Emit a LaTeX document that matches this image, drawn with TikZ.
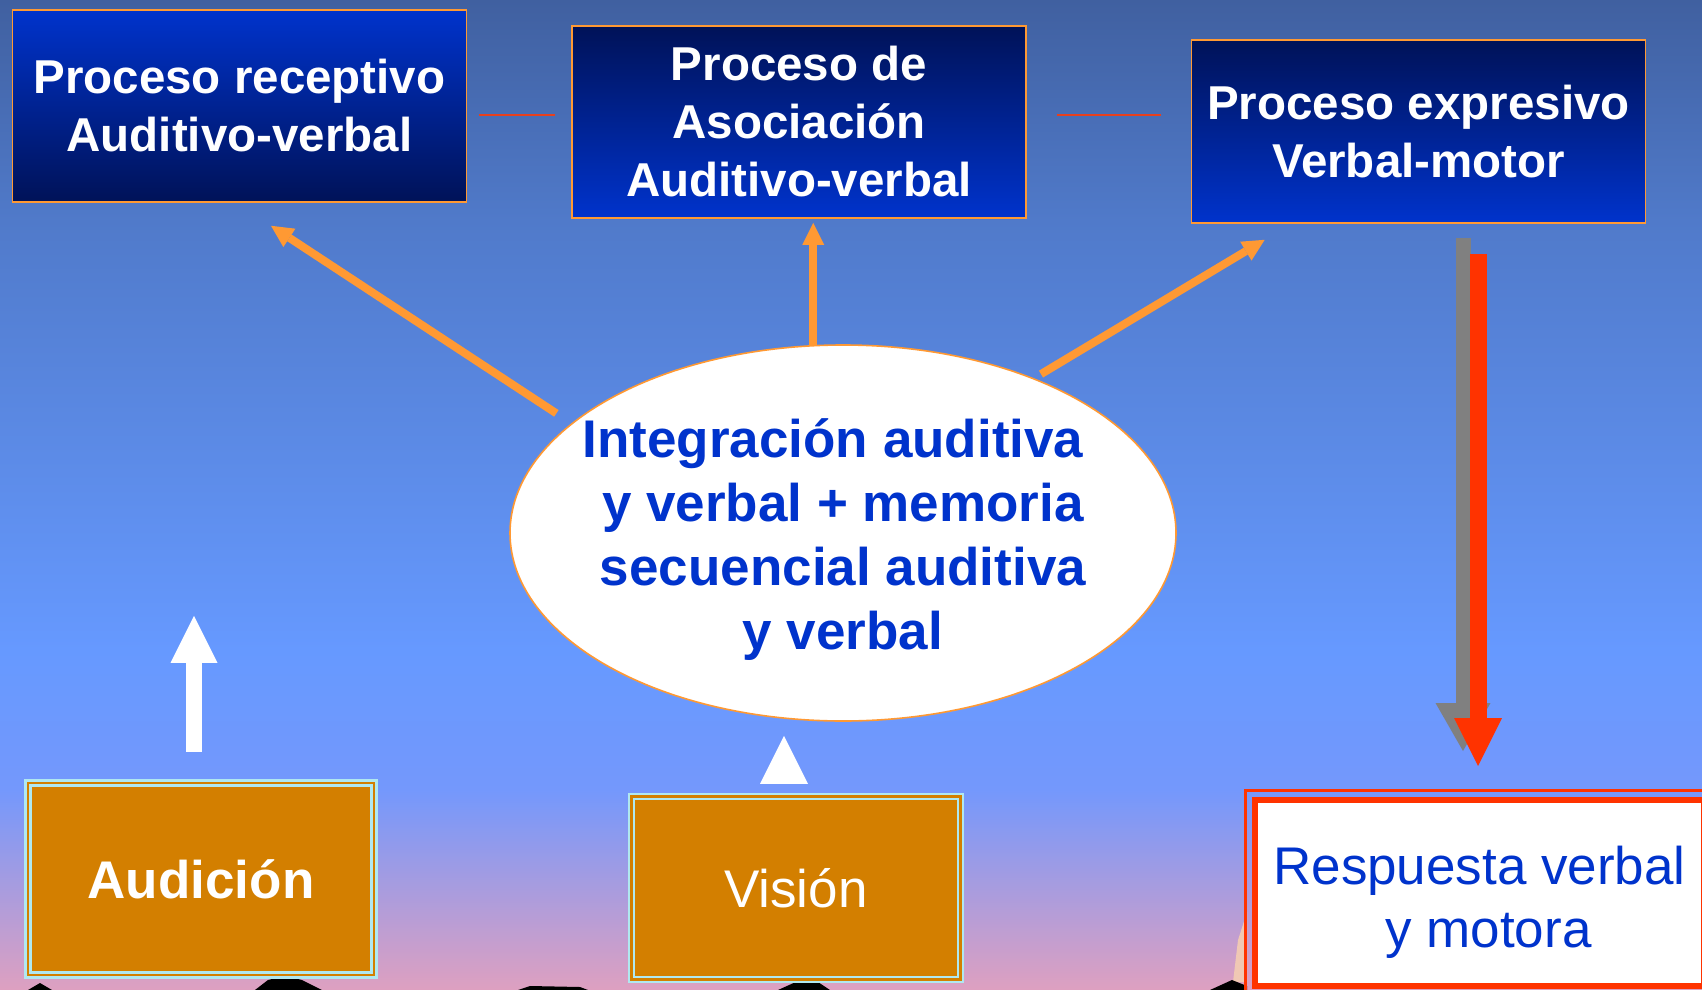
\documentclass[tikz,border=0pt]{standalone}
\usepackage{fontspec}
\setmainfont{Liberation Sans}
\usetikzlibrary{arrows.meta,shapes.geometric,calc}

\definecolor{skyA}{RGB}{64,96,160}
\definecolor{skyB}{RGB}{80,122,202}
\definecolor{skyC}{RGB}{102,153,255}
\definecolor{skyD}{RGB}{116,152,252}
\definecolor{skyE}{RGB}{222,160,192}
\definecolor{boxblue}{RGB}{0,51,204}
\definecolor{boxnavy}{RGB}{0,18,88}
\definecolor{rimorange}{RGB}{255,153,51}
\definecolor{senseorange}{RGB}{211,127,0}
\definecolor{palecyan}{RGB}{176,232,240}
\definecolor{respred}{RGB}{255,51,0}
\definecolor{linkred}{RGB}{232,64,28}
\definecolor{inkblue}{RGB}{0,51,204}
\definecolor{peach}{RGB}{240,200,180}

\begin{document}
\begin{tikzpicture}[x=0.5pt, y=-0.5pt,
    proc/.style={draw=rimorange, line width=0.8pt, text=white, align=center,
        inner sep=0pt, minimum width=227pt, minimum height=96pt,
        font=\bfseries\fontsize{23.75}{29}\selectfont},
    procdown/.style={proc, top color=boxblue, bottom color=boxnavy},
    procup/.style={proc, top color=boxnavy, bottom color=boxblue},
    sense/.style={fill=senseorange, draw=palecyan, line width=1.2pt,
        double=senseorange, double distance=1.2pt, text=white, inner sep=0pt,
        font=\fontsize{26.5}{31.5}\selectfont},
    integbox/.style={ellipse, draw=rimorange, line width=0.8pt, fill=white,
        inner sep=0pt, minimum width=333pt, minimum height=188pt},
    integtext/.style={text=inkblue, align=center, inner sep=0pt, yshift=-3.25pt,
        font=\bfseries\fontsize{26.5}{32}\selectfont},
    respbox/.style={draw=respred, line width=3pt, fill=white, inner sep=0pt,
        minimum width=224.5pt, minimum height=93pt},
    resptext/.style={text=inkblue, align=center, inner sep=0pt, yshift=-4.5pt,
        font=\fontsize{26.5}{31.5}\selectfont},
    feed/.style={rimorange, line width=4pt,
        -{Triangle[length=11pt,width=11pt,line width=0pt]}},
    link/.style={draw=linkred, line width=1pt},
    liftarrow/.style={white, line width=8pt,
        -{Triangle[length=23.5pt,width=23.5pt,line width=0pt]}},
    shadowarrow/.style={gray, line width=7.5pt,
        -{Triangle[length=24pt,width=27.5pt,line width=0pt]}},
    outarrow/.style={respred, line width=8.5pt,
        -{Triangle[length=24pt,width=24pt,line width=0pt]}}]

    \useasboundingbox (0,0) rectangle (1702,990);
    \clip (0,0) rectangle (1702,990);

    % sky
    \shade[top color=skyA, bottom color=skyB] (0,0) rectangle (1702,221);
    \shade[top color=skyB, bottom color=skyC] (0,220) rectangle (1702,651);
    \shade[top color=skyC, bottom color=skyD] (0,650) rectangle (1702,791);
    \shade[top color=skyD, bottom color=skyE] (0,790) rectangle (1702,990);

    % hill tops along the bottom edge
    \fill[black] (28,990) -- (40,983) -- (52,990) -- cycle;
    \fill[black] (255,990) -- (268,980) -- (285,976) -- (302,980) -- (322,990) -- cycle;
    \fill[black] (518,990) -- (530,986) -- (580,987) -- (588,990) -- cycle;
    \fill[black] (778,990) -- (798,981) -- (815,980) -- (830,990) -- cycle;
    \fill[peach] (1233,982) -- (1238,940) -- (1247,912) -- (1247,982) -- cycle;
    \fill[black] (1210,990) -- (1232,980) -- (1247,986) -- (1247,990) -- cycle;

    % processes
    \node[procdown] (recep) at (239.5,106) {Proceso receptivo\\Auditivo-verbal};
    \node[procup] (asoc) at (799,122) {Proceso de\\Asociación\\Auditivo-verbal};
    \node[procup, minimum height=91.5pt] (expr) at (1418.5,131.5) {Proceso expresivo\\Verbal-motor};

    \draw[link] ($(recep.east)+(12,9)$) -- ($(asoc.west)+(-16,-7)$);
    \draw[link] ($(asoc.east)+(30,-7)$) -- ($(expr.west)+(-30,-16.5)$);

    % integration
    \node[integbox, label={[integtext]center:{Integración auditiva\hspace*{10pt}\\y verbal + memoria\\secuencial auditiva\\y verbal}}] (integ) at (843,533) {};

    \coordinate (recepin) at ($(recep.south)+(31.5,23)$);
    \coordinate (exprin) at ($(expr.south west)+(74,16)$);

    \path (integ.158) edge[feed, shorten <=9pt] (recepin)
          (integ.99) edge[feed, shorten >=2pt] (integ.99 |- asoc.south)
          (integ.39) edge[feed, shorten <=4pt] (exprin);

    % senses
    \node[sense, font=\bfseries\fontsize{26.5}{31.5}\selectfont,
        minimum width=173pt, minimum height=96pt] (aud) at (201,879) {Audición};
    \node[sense, minimum width=164.5pt, minimum height=91.5pt] (vis) at (796,888) {Visión};

    \coordinate (audtip) at ($(aud.north)+(-7,-166)$);
    \draw[liftarrow] ($(aud.north)+(-7,-30)$) -- (audtip);
    \fill[white] ($(vis.north)+(-36,-11.5)$) -- ++(48,0) -- ++(-24,-48) -- cycle;

    % response
    \node[respbox, label={[resptext]center:{Respuesta verbal\\\hspace*{9pt}y motora}}] (resp) at (1479.5,893) {};
    \draw[respred, line width=1.5pt] ($(resp.north west)+(-6.5,-6.5)$) rectangle ($(resp.south east)+(6.5,6.5)$);

    \draw[shadowarrow] ($(expr.south)+(44.5,14)$) -- ($(resp.north)+(-16.5,-46)$);
    \draw[outarrow] ($(expr.south)+(59.5,30)$) -- ($(resp.north)+(-1.5,-31)$);
\end{tikzpicture}
\end{document}
